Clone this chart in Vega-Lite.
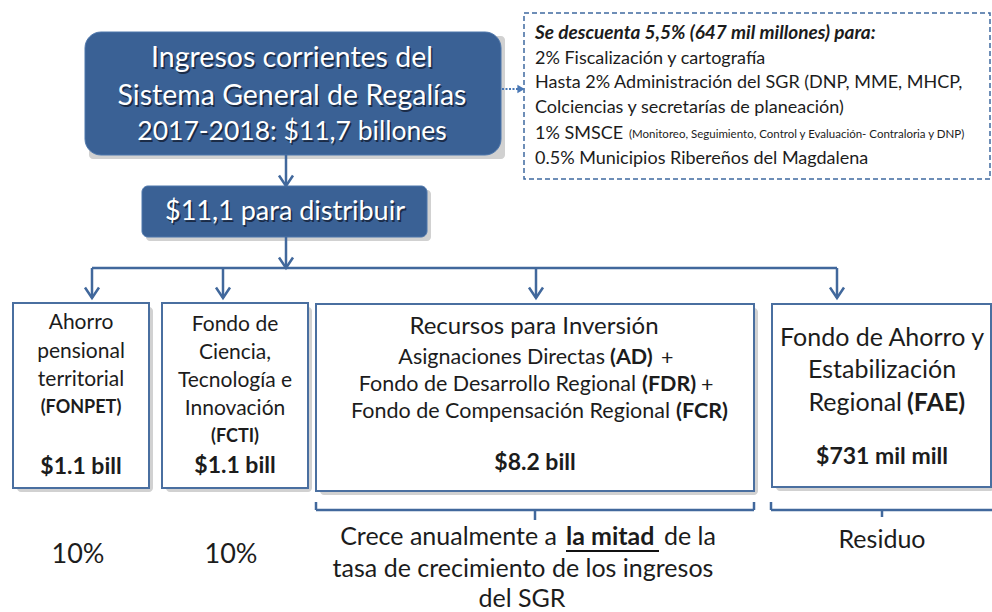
{
  "$schema": "https://vega.github.io/schema/vega-lite/v6.json",
  "width": 992,
  "height": 612,
  "padding": 0,
  "autosize": {"type": "none"},
  "background": "white",
  "config": {"view": {"stroke": null}, "text": {"font": "Lato"}},
  "datasets": {
    "boxes": [
      {"kind": "blue_big", "x": 85, "x2": 501, "y": 32, "y2": 155},
      {"kind": "blue_small", "x": 142, "x2": 427, "y": 186, "y2": 237},
      {"kind": "white", "x": 13, "x2": 149, "y": 303, "y2": 488},
      {"kind": "white", "x": 162, "x2": 308, "y": 303, "y2": 488},
      {"kind": "white", "x": 316, "x2": 754, "y": 304, "y2": 491},
      {"kind": "white", "x": 772, "x2": 991, "y": 304, "y2": 487},
      {"kind": "dashed", "x": 524, "x2": 990, "y": 13, "y2": 179}
    ],
    "segments": [
      {"kind": "solid", "x": 286, "y": 155, "x2": 286, "y2": 185},
      {"kind": "solid", "x": 286, "y": 237, "x2": 286, "y2": 268},
      {"kind": "solid", "x": 92, "y": 268, "x2": 837, "y2": 268},
      {"kind": "solid", "x": 92, "y": 268, "x2": 92, "y2": 298},
      {"kind": "solid", "x": 223, "y": 268, "x2": 223, "y2": 298},
      {"kind": "solid", "x": 536, "y": 268, "x2": 536, "y2": 298},
      {"kind": "solid", "x": 837, "y": 268, "x2": 837, "y2": 298},
      {"kind": "solid", "x": 316, "y": 502, "x2": 316, "y2": 510},
      {"kind": "solid", "x": 316, "y": 510, "x2": 754, "y2": 510},
      {"kind": "solid", "x": 754, "y": 502, "x2": 754, "y2": 510},
      {"kind": "solid", "x": 535, "y": 510, "x2": 535, "y2": 520},
      {"kind": "solid", "x": 771, "y": 502, "x2": 771, "y2": 510},
      {"kind": "solid", "x": 771, "y": 510, "x2": 992, "y2": 510},
      {"kind": "solid", "x": 882, "y": 510, "x2": 882, "y2": 517},
      {"kind": "dotted", "x": 502, "y": 89, "x2": 519, "y2": 89},
      {"kind": "underline", "x": 566, "y": 551, "x2": 659, "y2": 551}
    ],
    "heads": [
      {"kind": "chevron", "x": 286, "y": 186},
      {"kind": "chevron", "x": 286, "y": 268},
      {"kind": "chevron", "x": 92, "y": 298},
      {"kind": "chevron", "x": 223, "y": 298},
      {"kind": "chevron", "x": 536, "y": 298},
      {"kind": "chevron", "x": 837, "y": 298},
      {"kind": "triangle", "x": 521, "y": 89}
    ],
    "texts": [
      {"label": "Ingresos corrientes del", "x": 292, "y": 58, "tier": "h", "tone": "light", "style": "c"},
      {"label": "Sistema General de Regalías", "x": 292, "y": 96, "tier": "h", "tone": "light", "style": "c"},
      {"label": "2017-2018: $11,7 billones", "x": 292, "y": 132, "tier": "h3", "tone": "light", "style": "c"},
      {"label": "$11,1 para distribuir", "x": 285, "y": 212, "tier": "h2", "tone": "light", "style": "c"},
      {"label": "Se descuenta 5,5% (647 mil millones) para:", "x": 535, "y": 33, "tier": "n0", "tone": "dark", "style": "lib"},
      {"label": "2% Fiscalización y cartografía", "x": 535, "y": 59, "tier": "n1", "tone": "dark", "style": "l"},
      {"label": "Hasta 2% Administración del SGR (DNP, MME, MHCP,", "x": 535, "y": 83, "tier": "n1", "tone": "dark", "style": "l"},
      {"label": "Colciencias y secretarías de planeación)", "x": 535, "y": 108, "tier": "n1", "tone": "dark", "style": "l"},
      {"label": "1% SMSCE", "x": 535, "y": 134, "tier": "n1", "tone": "dark", "style": "l"},
      {"label": "(Monitoreo, Seguimiento, Control y Evaluación- Contraloria y DNP)", "x": 629, "y": 135, "tier": "n2", "tone": "dark", "style": "l"},
      {"label": "0.5% Municipios Ribereños del Magdalena", "x": 535, "y": 159, "tier": "n1", "tone": "dark", "style": "l"},
      {"label": "Ahorro", "x": 81, "y": 323, "tier": "b1", "tone": "dark", "style": "c"},
      {"label": "pensional", "x": 81, "y": 352, "tier": "b1", "tone": "dark", "style": "c"},
      {"label": "territorial", "x": 81, "y": 380, "tier": "b1", "tone": "dark", "style": "c"},
      {"label": "(FONPET)", "x": 81, "y": 408, "tier": "b2", "tone": "dark", "style": "cb"},
      {"label": "$1.1 bill", "x": 81, "y": 467, "tier": "b3", "tone": "dark", "style": "cb"},
      {"label": "Fondo de", "x": 235, "y": 325, "tier": "b1", "tone": "dark", "style": "c"},
      {"label": "Ciencia,", "x": 235, "y": 353, "tier": "b1", "tone": "dark", "style": "c"},
      {"label": "Tecnología e", "x": 235, "y": 381, "tier": "b1", "tone": "dark", "style": "c"},
      {"label": "Innovación", "x": 235, "y": 409, "tier": "b1", "tone": "dark", "style": "c"},
      {"label": "(FCTI)", "x": 235, "y": 437, "tier": "b2", "tone": "dark", "style": "cb"},
      {"label": "$1.1 bill", "x": 235, "y": 466, "tier": "b3", "tone": "dark", "style": "cb"},
      {"label": "Recursos para Inversión", "x": 534, "y": 327, "tier": "r1", "tone": "dark", "style": "c"},
      {"label": "Asignaciones Directas", "x": 605, "y": 358, "tier": "r2", "tone": "dark", "style": "r"},
      {"label": "(AD)", "x": 610, "y": 358, "tier": "r2", "tone": "dark", "style": "lb"},
      {"label": "+", "x": 661, "y": 359, "tier": "r2", "tone": "dark", "style": "l"},
      {"label": "Fondo de Desarrollo Regional", "x": 636, "y": 385, "tier": "r2", "tone": "dark", "style": "r"},
      {"label": "(FDR)", "x": 642, "y": 385, "tier": "r2", "tone": "dark", "style": "lb"},
      {"label": "+", "x": 701, "y": 386, "tier": "r2", "tone": "dark", "style": "l"},
      {"label": "Fondo de Compensación Regional", "x": 670, "y": 412, "tier": "r2", "tone": "dark", "style": "r"},
      {"label": "(FCR)", "x": 676, "y": 412, "tier": "r2", "tone": "dark", "style": "lb"},
      {"label": "$8.2 bill", "x": 535, "y": 463, "tier": "b3", "tone": "dark", "style": "cb"},
      {"label": "Fondo de Ahorro y", "x": 882, "y": 338, "tier": "f1", "tone": "dark", "style": "c"},
      {"label": "Estabilización", "x": 882, "y": 370, "tier": "f1", "tone": "dark", "style": "c"},
      {"label": "Regional", "x": 902, "y": 403, "tier": "f1", "tone": "dark", "style": "r"},
      {"label": "(FAE)", "x": 907, "y": 403, "tier": "f1", "tone": "dark", "style": "lb"},
      {"label": "$731 mil mill", "x": 882, "y": 457, "tier": "b4", "tone": "dark", "style": "cb"},
      {"label": "10%", "x": 78, "y": 555, "tier": "p", "tone": "dark", "style": "c"},
      {"label": "10%", "x": 231, "y": 555, "tier": "p", "tone": "dark", "style": "c"},
      {"label": "Crece anualmente a", "x": 557, "y": 537, "tier": "f1", "tone": "dark", "style": "r"},
      {"label": "la mitad", "x": 566, "y": 537, "tier": "f1", "tone": "dark", "style": "lb"},
      {"label": "de la", "x": 664, "y": 537, "tier": "f1", "tone": "dark", "style": "l"},
      {"label": "tasa de crecimiento de los ingresos", "x": 523, "y": 569, "tier": "f1", "tone": "dark", "style": "c"},
      {"label": "del SGR", "x": 522, "y": 599, "tier": "f1", "tone": "dark", "style": "c"},
      {"label": "Residuo", "x": 882, "y": 540, "tier": "f1", "tone": "dark", "style": "c"}
    ]
  },
  "encoding": {
    "x": {"field": "x", "type": "quantitative", "scale": {"domain": [0, 992], "nice": false, "zero": false}, "axis": null},
    "y": {"field": "y", "type": "quantitative", "scale": {"domain": [0, 612], "nice": false, "zero": false, "reverse": true}, "axis": null}
  },
  "resolve": {"scale": {"size": "independent", "color": "independent"}},
  "layer": [
    {
      "data": {"name": "boxes"},
      "transform": [{"filter": "datum.kind !== 'dashed'"}],
      "mark": {"type": "rect", "fill": "#7a7a7a", "opacity": 0.35, "xOffset": 4, "x2Offset": 4, "yOffset": 4, "y2Offset": 4, "cornerRadius": 4},
      "encoding": {"x2": {"field": "x2"}, "y2": {"field": "y2"}}
    },
    {
      "data": {"name": "boxes"},
      "transform": [{"filter": "datum.kind === 'blue_big'"}],
      "mark": {"type": "rect", "fill": "#3a6195", "stroke": "#4d76ab", "strokeWidth": 1, "cornerRadius": 16},
      "encoding": {"x2": {"field": "x2"}, "y2": {"field": "y2"}}
    },
    {
      "data": {"name": "boxes"},
      "transform": [{"filter": "datum.kind === 'blue_small'"}],
      "mark": {"type": "rect", "fill": "#3a6195", "stroke": "#4d76ab", "strokeWidth": 1, "cornerRadius": 6},
      "encoding": {"x2": {"field": "x2"}, "y2": {"field": "y2"}}
    },
    {
      "data": {"name": "boxes"},
      "transform": [{"filter": "datum.kind === 'white'"}],
      "mark": {"type": "rect", "fill": "#ffffff", "stroke": "#4a6fa0", "strokeWidth": 2},
      "encoding": {"x2": {"field": "x2"}, "y2": {"field": "y2"}}
    },
    {
      "data": {"name": "boxes"},
      "transform": [{"filter": "datum.kind === 'dashed'"}],
      "mark": {"type": "rect", "fill": "#ffffff", "stroke": "#3f69a0", "strokeWidth": 1.5, "strokeDash": [5, 3]},
      "encoding": {"x2": {"field": "x2"}, "y2": {"field": "y2"}}
    },
    {
      "data": {"name": "segments"},
      "transform": [{"filter": "datum.kind === 'solid'"}],
      "mark": {"type": "rule", "stroke": "#41689c", "strokeWidth": 2.5},
      "encoding": {"x2": {"field": "x2"}, "y2": {"field": "y2"}}
    },
    {
      "data": {"name": "segments"},
      "transform": [{"filter": "datum.kind === 'dotted'"}],
      "mark": {"type": "rule", "stroke": "#4a78b5", "strokeWidth": 2, "strokeDash": [2, 1.5]},
      "encoding": {"x2": {"field": "x2"}, "y2": {"field": "y2"}}
    },
    {
      "data": {"name": "segments"},
      "transform": [{"filter": "datum.kind === 'underline'"}],
      "mark": {"type": "rule", "stroke": "#111111", "strokeWidth": 2},
      "encoding": {"x2": {"field": "x2"}, "y2": {"field": "y2"}}
    },
    {
      "data": {"name": "heads"},
      "transform": [{"filter": "datum.kind === 'chevron'"}],
      "mark": {"type": "point", "shape": "M-1,-1.5L0,0L1,-1.5", "filled": false, "size": 196, "stroke": "#41689c", "strokeWidth": 2.5, "opacity": 1}
    },
    {
      "data": {"name": "heads"},
      "transform": [{"filter": "datum.kind === 'triangle'"}],
      "mark": {"type": "point", "shape": "triangle-right", "filled": true, "size": 70, "fill": "#4a78b5", "opacity": 1}
    },
    {
      "data": {"name": "texts"},
      "transform": [{"filter": "datum.tone === 'light'"}],
      "mark": {"type": "text", "align": "center", "baseline": "middle", "dx": 1.5, "dy": 1.5, "fill": "#16233a", "opacity": 0.85},
      "encoding": {
        "text": {"field": "label"},
        "size": {"field": "tier", "type": "nominal", "scale": {"type": "ordinal", "domain": ["h", "h2", "h3", "n0", "n1", "n2", "b1", "b2", "b3", "b4", "r1", "r2", "f1", "p"], "range": [28.5, 27, 26.5, 19, 18, 11.5, 21, 18, 23, 23, 24, 21.5, 25, 27]}, "legend": null}
      }
    },
    {
      "data": {"name": "texts"},
      "transform": [{"filter": "datum.style === 'c'"}],
      "mark": {"type": "text", "align": "center", "baseline": "middle"},
      "encoding": {
        "text": {"field": "label"},
        "size": {"field": "tier", "type": "nominal", "scale": {"type": "ordinal", "domain": ["h", "h2", "h3", "n0", "n1", "n2", "b1", "b2", "b3", "b4", "r1", "r2", "f1", "p"], "range": [28.5, 27, 26.5, 19, 18, 11.5, 21, 18, 23, 23, 24, 21.5, 25, 27]}, "legend": null},
        "color": {"field": "tone", "type": "nominal", "scale": {"domain": ["light", "dark"], "range": ["#ffffff", "#1c1c1c"]}, "legend": null}
      }
    },
    {
      "data": {"name": "texts"},
      "transform": [{"filter": "datum.style === 'cb'"}],
      "mark": {"type": "text", "align": "center", "baseline": "middle", "fontWeight": "bold"},
      "encoding": {
        "text": {"field": "label"},
        "size": {"field": "tier", "type": "nominal", "scale": {"type": "ordinal", "domain": ["h", "h2", "h3", "n0", "n1", "n2", "b1", "b2", "b3", "b4", "r1", "r2", "f1", "p"], "range": [28.5, 27, 26.5, 19, 18, 11.5, 21, 18, 23, 23, 24, 21.5, 25, 27]}, "legend": null},
        "color": {"field": "tone", "type": "nominal", "scale": {"domain": ["light", "dark"], "range": ["#ffffff", "#1c1c1c"]}, "legend": null}
      }
    },
    {
      "data": {"name": "texts"},
      "transform": [{"filter": "datum.style === 'l'"}],
      "mark": {"type": "text", "align": "left", "baseline": "middle"},
      "encoding": {
        "text": {"field": "label"},
        "size": {"field": "tier", "type": "nominal", "scale": {"type": "ordinal", "domain": ["h", "h2", "h3", "n0", "n1", "n2", "b1", "b2", "b3", "b4", "r1", "r2", "f1", "p"], "range": [28.5, 27, 26.5, 19, 18, 11.5, 21, 18, 23, 23, 24, 21.5, 25, 27]}, "legend": null},
        "color": {"field": "tone", "type": "nominal", "scale": {"domain": ["light", "dark"], "range": ["#ffffff", "#1c1c1c"]}, "legend": null}
      }
    },
    {
      "data": {"name": "texts"},
      "transform": [{"filter": "datum.style === 'r'"}],
      "mark": {"type": "text", "align": "right", "baseline": "middle"},
      "encoding": {
        "text": {"field": "label"},
        "size": {"field": "tier", "type": "nominal", "scale": {"type": "ordinal", "domain": ["h", "h2", "h3", "n0", "n1", "n2", "b1", "b2", "b3", "b4", "r1", "r2", "f1", "p"], "range": [28.5, 27, 26.5, 19, 18, 11.5, 21, 18, 23, 23, 24, 21.5, 25, 27]}, "legend": null},
        "color": {"field": "tone", "type": "nominal", "scale": {"domain": ["light", "dark"], "range": ["#ffffff", "#1c1c1c"]}, "legend": null}
      }
    },
    {
      "data": {"name": "texts"},
      "transform": [{"filter": "datum.style === 'lb'"}],
      "mark": {"type": "text", "align": "left", "baseline": "middle", "fontWeight": "bold"},
      "encoding": {
        "text": {"field": "label"},
        "size": {"field": "tier", "type": "nominal", "scale": {"type": "ordinal", "domain": ["h", "h2", "h3", "n0", "n1", "n2", "b1", "b2", "b3", "b4", "r1", "r2", "f1", "p"], "range": [28.5, 27, 26.5, 19, 18, 11.5, 21, 18, 23, 23, 24, 21.5, 25, 27]}, "legend": null},
        "color": {"field": "tone", "type": "nominal", "scale": {"domain": ["light", "dark"], "range": ["#ffffff", "#1c1c1c"]}, "legend": null}
      }
    },
    {
      "data": {"name": "texts"},
      "transform": [{"filter": "datum.style === 'lib'"}],
      "mark": {"type": "text", "align": "left", "baseline": "middle", "fontWeight": "bold", "fontStyle": "italic"},
      "encoding": {
        "text": {"field": "label"},
        "size": {"field": "tier", "type": "nominal", "scale": {"type": "ordinal", "domain": ["h", "h2", "h3", "n0", "n1", "n2", "b1", "b2", "b3", "b4", "r1", "r2", "f1", "p"], "range": [28.5, 27, 26.5, 19, 18, 11.5, 21, 18, 23, 23, 24, 21.5, 25, 27]}, "legend": null},
        "color": {"field": "tone", "type": "nominal", "scale": {"domain": ["light", "dark"], "range": ["#ffffff", "#1c1c1c"]}, "legend": null}
      }
    }
  ]
}
